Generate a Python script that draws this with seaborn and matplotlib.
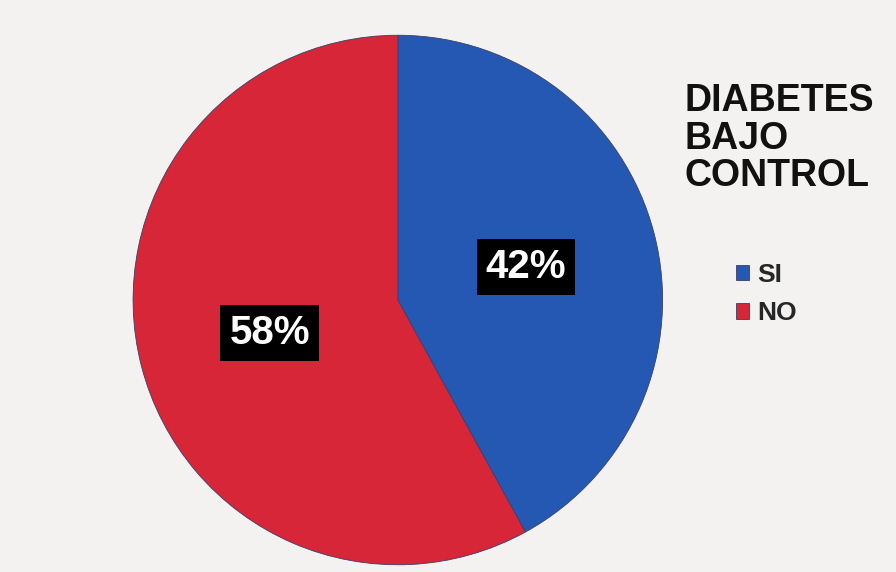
import matplotlib
matplotlib.use("Agg")
import matplotlib.pyplot as plt
import seaborn as sns

# data
labels = ["SI", "NO"]
values = [42, 58]
title_text = "DIABETES\nBAJO\nCONTROL"
colors = ["#2458b3", "#d62638"]

sns.set_theme(style="white")
plt.rcParams['font.family'] = ['Liberation Sans', 'DejaVu Sans']

fig = plt.figure(figsize=(8.96, 5.72), dpi=100, facecolor="#f3f2f0")
ax = fig.add_axes([0.145, 0.008, 0.598, 0.935])
ax.set_facecolor("#f3f2f0")

wedges, texts, autotexts = ax.pie(values, colors=colors, startangle=90, counterclock=False,
                                  autopct=lambda p: f"{p:.0f}%", pctdistance=0.5,
                                  wedgeprops=dict(edgecolor="#3a3f6a", linewidth=0.6))
for t in autotexts:
    t.set_color("white")
    t.set_fontsize(29)
    t.set_fontweight("bold")
    t.set_bbox(dict(facecolor="black", edgecolor="none", boxstyle="square,pad=0.22"))
ax.set_xlim(-1.01, 1.01)
ax.set_ylim(-1.01, 1.01)
ax.set_aspect("equal")

fig.text(0.764, 0.855, title_text, fontsize=27, fontweight="bold", color="#111111",
         va="top", ha="left", linespacing=1.06)

leg = fig.legend(wedges, labels, loc="upper left", bbox_to_anchor=(0.795, 0.582),
                 frameon=False, fontsize=19, handlelength=0.5, handleheight=0.5,
                 handletextpad=0.3, labelspacing=0.55)
for txt in leg.get_texts():
    txt.set_fontweight("bold")

fig.savefig("out.png", dpi=100, facecolor=fig.get_facecolor())
